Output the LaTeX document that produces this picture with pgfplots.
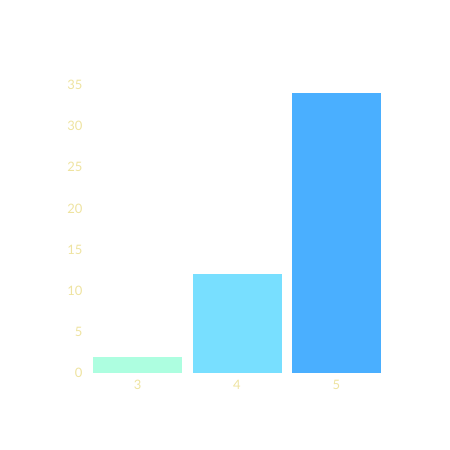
\documentclass[border=0pt]{standalone}
\usepackage{fontspec}
\setmainfont{Lato}
\usepackage{pgfplots}
\pgfplotsset{compat=1.18}
\definecolor{barmint}{HTML}{ADFEE0}
\definecolor{barcyan}{HTML}{78DFFF}
\definecolor{barblue}{HTML}{4AAFFF}
\definecolor{ticktext}{HTML}{EEE3A0}
\begin{document}
\begin{tikzpicture}
    \begin{axis}[
            scale only axis,
            width=298pt,
            height=288pt,
            xmin=2.5, xmax=5.5,
            ymin=0, ymax=35,
            axis line style={draw=none},
            major tick length=0pt,
            xtick={3,4,5},
            ytick={0,5,10,15,20,25,30,35},
            tick label style={text=ticktext, font=\fontsize{13}{15}\selectfont},
            /pgf/number format/assume math mode=true,
            xticklabel style={yshift=-4pt},
            yticklabel style={xshift=-2pt},
            ybar,
            bar width=89pt,
            bar shift=0pt,
        ]
        \addplot[fill=barmint, draw=none] coordinates {(3,2)};
        \addplot[fill=barcyan, draw=none] coordinates {(4,12)};
        \addplot[fill=barblue, draw=none] coordinates {(5,34)};
    \end{axis}
    \path (-88pt,-77pt) rectangle (362pt,373pt);
\end{tikzpicture}
\end{document}
